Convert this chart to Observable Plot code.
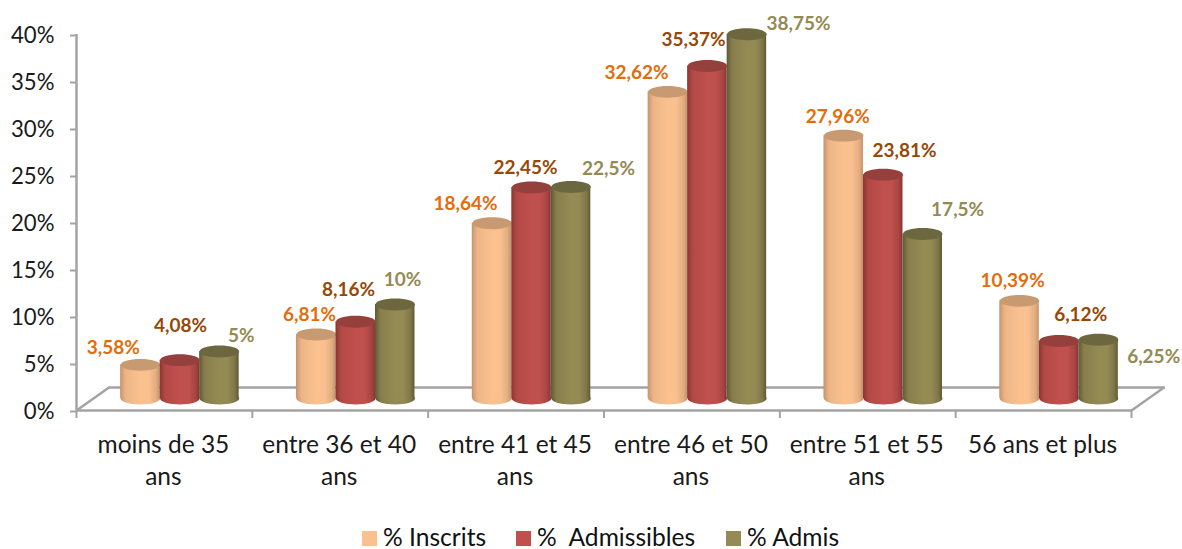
<!DOCTYPE html>
<html><head><meta charset="utf-8">
<script src="https://cdn.jsdelivr.net/npm/d3@7"></script>
<script src="https://cdn.jsdelivr.net/npm/@observablehq/plot@0.6"></script>
<style>
html,body{margin:0;padding:0;background:#fff;width:1182px;height:549px;overflow:hidden}
#legend{position:relative;height:39px;font:24.6px Lato,sans-serif;color:#111}
#legend span{position:absolute;white-space:pre;top:13px;line-height:28px}
#legend i{position:absolute;top:21px;width:15px;height:15px}
</style></head><body>
<div id="chart"></div>
<div id="legend"></div>
<script>
const categories = ["moins de 35\nans","entre 36 et 40\nans","entre 41 et 45\nans","entre 46 et 50\nans","entre 51 et 55\nans","56 ans et plus"];
const seriesNames = ["% Inscrits","%  Admissibles","% Admis"];
const inscrits    = [3.58, 6.81, 18.64, 32.62, 27.96, 10.39];
const admissibles = [4.08, 8.16, 22.45, 35.37, 23.81, 6.12];
const admis       = [5, 10, 22.5, 38.75, 17.5, 6.25];
const yTicks = [0,5,10,15,20,25,30,35,40];

// Styling and label placement (pixels), kept apart from the values
const side  = ["#fac090","#c0504d","#948a54"];
const edge  = ["#c4946a","#8a3533","#5f5a35"];
const lid   = ["#c89a72","#96403d","#6d673f"];
const inkL  = ["#e46c0a","#974806","#948a54"];
const labelDx = [[-27,0.6,22],[-6.7,-7.2,7.3],[-26.5,-6,37.5],[-31.3,-13.8,51.7],[-6,21.4,34.9],[-6.9,21.6,55.1]];
const labelDy = [[-17.3,-34.6,-16],[-20,-32.3,-25],[-19.8,-20,-18.5],[-19.4,-26.5,-10.8],[-19.2,-24.2,-24.5],[-20.3,-26.5,16.7]];
const FLOOR_DY = -12, BAR = 0.2247, SHIFT = 0.088, RX = 19.75;

const seriesValues = [inscrits, admissibles, admis];
const rows = seriesValues.map((vals,s)=>vals.map((v,i)=>({
  i, s, v,
  cx: i + 0.5 + SHIFT + (s-1)*BAR,
  label: String(v).replace(".",",")+"%"
})));

const ellipse = {
  draw(ctx,size){
    const rx=Math.sqrt(size/Math.PI), ry=rx*0.3, k=0.5523;
    ctx.moveTo(-rx,0);
    ctx.bezierCurveTo(-rx,-ry*k,-rx*k,-ry,0,-ry);
    ctx.bezierCurveTo(rx*k,-ry,rx,-ry*k,rx,0);
    ctx.bezierCurveTo(rx,ry*k,rx*k,ry,0,ry);
    ctx.bezierCurveTo(-rx*k,ry,-rx,ry*k,-rx,0);
    ctx.closePath();
  }
};

const defs = () => {
  const g = d3.create("svg:defs");
  side.forEach((c,s)=>{
    const lg = g.append("linearGradient").attr("id","cyl"+s).attr("x1",0).attr("x2",1).attr("y1",0).attr("y2",0);
    [[0,edge[s]],[0.14,d3.interpolateRgb(edge[s],c)(0.75)],[0.5,c],[0.72,c],[0.9,d3.interpolateRgb(edge[s],c)(0.6)],[1,edge[s]]]
      .forEach(([o,col])=>lg.append("stop").attr("offset",o).attr("stop-color",col));
  });
  return g.node();
};

const grey = "#a3a3a3";
const floorMarks = [
  Plot.ruleY([0],{x1:0.182,x2:6.193,dy:-23,stroke:grey,strokeWidth:2.5}),
  Plot.link([0,6],{x1:d=>d,y1:0,x2:d=>d+0.185,y2:2.45,stroke:grey,strokeWidth:2.5}),
  Plot.ruleY([0],{x1:0,x2:6,stroke:grey,strokeWidth:2.5}),
  Plot.ruleX([0],{y1:0,y2:40,stroke:grey,strokeWidth:2.5})
];

const barMarks = rows.flatMap((row,s)=>row.map(d=>[d])).flatMap(one=>{
  const s = one[0].s, fill = `url(#cyl${s})`;
  return [
    Plot.dot(one,{x:"cx",y:d=>0,r:RX,symbol:ellipse,fill,dy:FLOOR_DY}),
    Plot.rect(one,{x1:d=>d.cx-BAR/2,x2:d=>d.cx+BAR/2,y1:d=>0,y2:"v",fill,dy:FLOOR_DY}),
    Plot.dot(one,{x:"cx",y:"v",r:RX,symbol:ellipse,fill:lid[s],dy:FLOOR_DY})
  ];
});

const labelMarks = rows.flatMap((row,s)=>row.map(d=>
  Plot.text([d],{x:"cx",y:"v",text:"label",fill:inkL[s],
    dx:labelDx[d.i][s],dy:FLOOR_DY+labelDy[d.i][s],
    fontFamily:"Lato,sans-serif",fontWeight:700,fontSize:19})
));

const chart = Plot.plot({
  width:1182,height:510,marginLeft:76,marginRight:51,marginTop:34,marginBottom:100,
  x:{domain:[0,6],axis:null},
  y:{domain:[0,40],axis:null},
  style:{background:"#fff",overflow:"visible"},
  marks:[
    defs,
    ...floorMarks,
    Plot.axisY({ticks:yTicks,tickFormat:d=>d+"%",tickSize:6,tickPadding:16,dy:1,stroke:grey,
      fill:"#1a1a1a",fontFamily:"Lato,sans-serif",fontSize:22.2,label:null,strokeWidth:2}),
    Plot.axisX({ticks:d3.range(7),tickFormat:()=>"",tickSize:8,stroke:grey,strokeWidth:2,label:null}),
    Plot.axisX({ticks:d3.range(6).map(i=>i+0.5),tickFormat:d=>categories[Math.floor(d)],tickSize:0,tickPadding:20,dx:-1,
      fill:"#1a1a1a",fontFamily:"Lato,sans-serif",fontSize:24.5,lineHeight:1.31,label:null,lineWidth:Infinity}),
    ...barMarks,
    ...labelMarks
  ]
});
document.getElementById("chart").appendChild(chart);
chart.style.display="block";

const swatchX=[362,516,726], textX=[383,537,747];
const leg=document.getElementById("legend");
seriesNames.forEach((n,s)=>{
  const i=document.createElement("i");i.style.left=swatchX[s]+"px";i.style.background=side[s];leg.appendChild(i);
  const t=document.createElement("span");t.style.left=textX[s]+"px";t.textContent=n;leg.appendChild(t);
});
</script>
</body></html>
